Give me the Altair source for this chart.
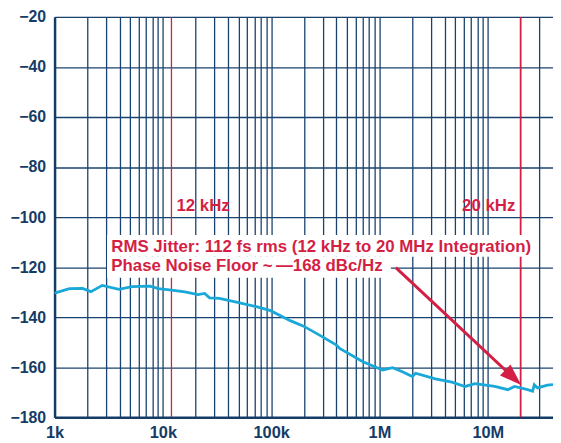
import altair as alt
import pandas as pd

# phase noise curve (Hz, dBc/Hz)
freq = [1000, 1036, 1371, 1813, 2163, 2761, 3925, 5188, 7638, 9100, 12030, 15960,
        21090, 24280, 26980, 33280, 48900, 74400, 98600, 150000, 199000, 282000,
        401000, 429000, 703000, 1069000, 1321000, 1629000, 2010000, 2154000,
        3281000, 4659000, 6166000, 7603000, 11590000, 15310000, 17650000,
        23340000, 25940000, 26870000, 28790000, 35540000, 40000000]
noise = [-130.3, -130.2, -128.6, -128.5, -129.8, -127.3, -128.9, -127.8, -127.6,
         -128.6, -129.2, -129.9, -131.0, -130.5, -132.3, -132.5, -134.1, -135.9,
         -137.4, -141.4, -143.6, -147.3, -151.2, -152.5, -157.8, -161.1, -160.2,
         -161.8, -163.7, -162.4, -164.7, -166.0, -167.7, -166.6, -167.7, -169.0,
         -167.7, -169.0, -169.6, -167.0, -168.3, -167.2, -167.0]

# axis
x_domain = [1000, 40000000]
y_domain = [-180, -20]
y_ticks = [-180, -160, -140, -120, -100, -80, -60, -40, -20]
x_grid = [m * 10 ** e for e in range(3, 7) for m in range(1, 10)] + [10000000, 20000000, 30000000]
x_label_vals = [1000, 10000, 100000, 1000000, 10000000]
x_label_txt = ["1k", "10k", "100k", "1M", "10M"]

# integration markers
marker_freq = [12000, 20000000]
marker_txt = ["12 kHz", "20 kHz"]
marker_txt_db = [-95.7, -95.7]

# annotation text
note_lines = ["RMS Jitter: 112 fs rms (12 kHz to 20 MHz Integration)",
              "Phase Noise Floor ~\u2009\u2014168 dBc/Hz"]
note_freq = [3340, 3340]
note_db = [-111.8, -119.7]
box_f1 = [3050, 3050]
box_f2 = [26900000, 1274000]
box_db1 = [-107.2, -115.9]
box_db2 = [-115.9, -124.3]

# arrow
arrow_f = [1415000]
arrow_db = [-120.2]
arrow_f2 = [17160000]
arrow_db2 = [-164.1]

NAVY = "#143c66"
GRID = "#1a426e"
RED = "#d41f45"
CYAN = "#1aa8d8"
FONT = "Liberation Sans"

xs = alt.Scale(type="log", domain=x_domain, nice=False)
ys = alt.Scale(domain=y_domain, nice=False)

label_expr = " : ".join(
    f"datum.value == {v} ? '{t}'" for v, t in zip(x_label_vals, x_label_txt)) + " : ''"

curve_df = pd.DataFrame({"f": freq, "db": noise})

base_line = alt.Chart(curve_df).mark_line(color=CYAN, strokeWidth=2.8).encode(
    x=alt.X("f:Q", scale=xs, title=None,
            axis=alt.Axis(values=x_grid, labelExpr=label_expr, labelOverlap=False,
                          ticks=False, grid=True, gridColor=GRID, gridWidth=1.3,
                          domainColor=NAVY, domainWidth=2.5, labelFont=FONT,
                          labelFontSize=16.5, labelFontWeight="bold", labelColor=NAVY,
                          labelPadding=7, labelFlush=False)),
    y=alt.Y("db:Q", scale=ys, title=None,
            axis=alt.Axis(values=y_ticks, ticks=False, grid=True, gridColor=GRID,
                          gridWidth=1.3, domainColor=NAVY, domainWidth=2.5,
                          labelFont=FONT, labelFontSize=16, labelFontWeight="bold",
                          labelColor=NAVY, labelPadding=9)),
)

marker_df = pd.DataFrame({"f": marker_freq, "t": marker_txt, "db": marker_txt_db})
markers = alt.Chart(marker_df).mark_rule(color=RED, strokeWidth=1.3).encode(
    x=alt.X("f:Q", scale=xs))

mk_text_l = alt.Chart(marker_df.iloc[[0]]).mark_text(
    align="left", baseline="middle", dx=5, font=FONT, fontSize=17,
    fontWeight="bold", color=RED).encode(
    x=alt.X("f:Q", scale=xs), y=alt.Y("db:Q", scale=ys), text="t:N")
mk_text_r = alt.Chart(marker_df.iloc[[1]]).mark_text(
    align="right", baseline="middle", dx=-5, font=FONT, fontSize=17,
    fontWeight="bold", color=RED).encode(
    x=alt.X("f:Q", scale=xs), y=alt.Y("db:Q", scale=ys), text="t:N")

box_df = pd.DataFrame({"f1": box_f1, "f2": box_f2, "d1": box_db1, "d2": box_db2})
boxes = alt.Chart(box_df).mark_rect(color="white").encode(
    x=alt.X("f1:Q", scale=xs), x2="f2:Q",
    y=alt.Y("d1:Q", scale=ys), y2="d2:Q")

note_df = pd.DataFrame({"f": note_freq, "db": note_db, "t": note_lines})
notes = alt.Chart(note_df).mark_text(
    align="left", baseline="middle", font=FONT, fontSize=17,
    fontWeight="bold", color=RED).encode(
    x=alt.X("f:Q", scale=xs), y=alt.Y("db:Q", scale=ys), text="t:N")

arrow_df = pd.DataFrame({"f": arrow_f, "db": arrow_db, "f2": arrow_f2, "db2": arrow_db2})
arrow_line = alt.Chart(arrow_df).mark_rule(color=RED, strokeWidth=3).encode(
    x=alt.X("f:Q", scale=xs), y=alt.Y("db:Q", scale=ys), x2="f2:Q", y2="db2:Q")
arrow_head = alt.Chart(arrow_df).mark_point(
    shape="M0,-1L0.7,1L-0.7,1Z", filled=True, color=RED, opacity=1,
    size=484, angle=133).encode(
    x=alt.X("f2:Q", scale=xs), y=alt.Y("db2:Q", scale=ys))

chart = alt.layer(
    markers, boxes, base_line, mk_text_l, mk_text_r, notes, arrow_line, arrow_head
).properties(
    width=503, height=404,
    autosize=alt.AutoSizeParams(type="none"),
    padding={"left": 47, "top": 7, "right": 0, "bottom": 22},
).configure_view(stroke=None).configure(background="white")

chart.save("out.html", embed_options={"renderer": "svg", "actions": False})
